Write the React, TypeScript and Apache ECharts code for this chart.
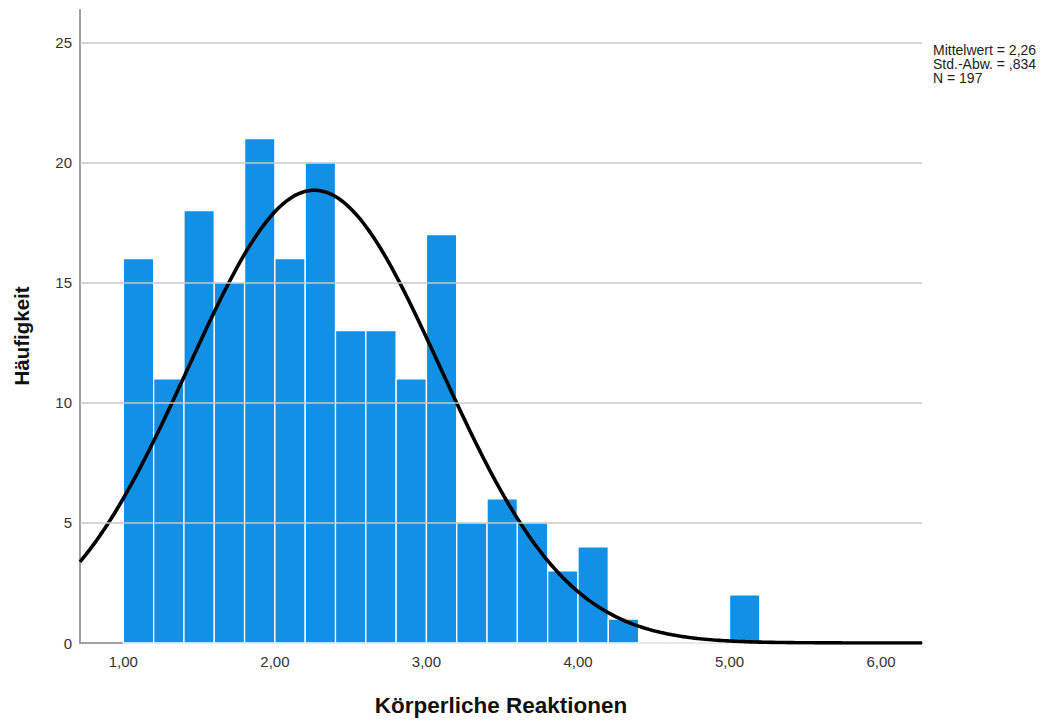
import React, { useEffect, useRef } from "react";
import * as echarts from "echarts";

const binStart = 1.0;
const binWidth = 0.2;
const counts = [16, 11, 18, 15, 21, 16, 20, 13, 13, 11, 17, 5, 6, 5, 3, 4, 1, 0, 0, 0, 2];
const xTickValues = [1, 2, 3, 4, 5, 6];
const yTickValues = [0, 5, 10, 15, 20, 25];
const mean = 2.26;
const sd = 0.834;
const n = 197;
const statsLines = ["Mittelwert = 2,26", "Std.-Abw. = ,834", "N = 197"];
const xTitle = "Körperliche Reaktionen";
const yTitle = "Häufigkeit";
const xMin = 0.714;
const xMax = 6.27;
const yMax = 26.35;

export default function App() {
  const ref = useRef<HTMLDivElement>(null);
  useEffect(() => {
    if (!ref.current) return;
    const chart = echarts.init(ref.current, undefined, { renderer: "svg" });
    const bars = counts.map((c, i) => [binStart + i * binWidth, binStart + (i + 1) * binWidth, c]);
    const curve: number[][] = [];
    const steps = 300;
    for (let i = 0; i <= steps; i++) {
      const x = xMin + ((xMax - xMin) * i) / steps;
      const z = (x - mean) / sd;
      const y = (n * binWidth) / (sd * Math.sqrt(2 * Math.PI)) * Math.exp(-0.5 * z * z);
      curve.push([x, y]);
    }
    const font = "Liberation Sans";
    chart.setOption({
      animation: false,
      grid: { left: 80, right: 135, top: 10, bottom: 74 },
      xAxis: {
        type: "value",
        min: xMin,
        max: xMax,
        name: xTitle,
        nameLocation: "middle",
        nameGap: 51,
        nameTextStyle: { fontFamily: font, fontWeight: "bold", fontSize: 22.5, color: "#111" },
        axisLine: { show: true, lineStyle: { color: "#a0a0a0", width: 2 } },
        axisTick: { show: false },
        splitLine: { show: false },
        axisLabel: {
          customValues: xTickValues,
          formatter: (v: number) => v.toFixed(2).replace(".", ","),
          fontFamily: font,
          fontSize: 15,
          color: "#333",
          margin: 11,
        },
      },
      yAxis: {
        type: "value",
        min: 0,
        max: yMax,
        axisLine: { show: true, lineStyle: { color: "#a0a0a0", width: 2 } },
        axisTick: { show: false },
        splitLine: { show: false },
        axisLabel: {
          customValues: yTickValues,
          fontFamily: font,
          fontSize: 15,
          color: "#333",
          margin: 8,
        },
      },
      graphic: [
        {
          type: "text",
          x: 21,
          y: 336,
          rotation: Math.PI / 2,
          style: {
            text: yTitle,
            font: `bold 20.5px '${font}'`,
            fill: "#111",
            textAlign: "center",
            textVerticalAlign: "middle",
          },
        },
        {
          type: "text",
          x: 933,
          y: 43,
          style: {
            text: statsLines.join("\n"),
            font: `14px '${font}'`,
            fill: "#222",
            lineHeight: 14,
          },
        },
      ],
      series: [
        {
          type: "line",
          data: [],
          showSymbol: false,
          silent: true,
          markLine: {
            silent: true,
            symbol: "none",
            label: { show: false },
            lineStyle: { color: "#c8c8c8", width: 1.5, type: "solid" },
            data: yTickValues.filter((v) => v > 0).map((v) => ({ yAxis: v })),
          },
          z: 1,
        },
        {
          type: "custom",
          data: bars,
          z: 2,
          renderItem: (params: any, api: any) => {
            const p0 = api.coord([api.value(0), api.value(2)]);
            const p1 = api.coord([api.value(1), 0]);
            return {
              type: "rect",
              shape: { x: p0[0], y: p0[1], width: p1[0] - p0[0], height: p1[1] - p0[1] },
              style: { fill: "#1190E6", stroke: "#ffffff", lineWidth: 1.3 },
            };
          },
        },
        {
          type: "line",
          data: curve,
          showSymbol: false,
          lineStyle: { color: "#000", width: 3.6 },
          z: 3,
        },
      ],
    });
    return () => chart.dispose();
  }, []);
  return <div ref={ref} style={{ width: 1057, height: 722, position: "absolute", left: 0, top: 0 }} />;
}
